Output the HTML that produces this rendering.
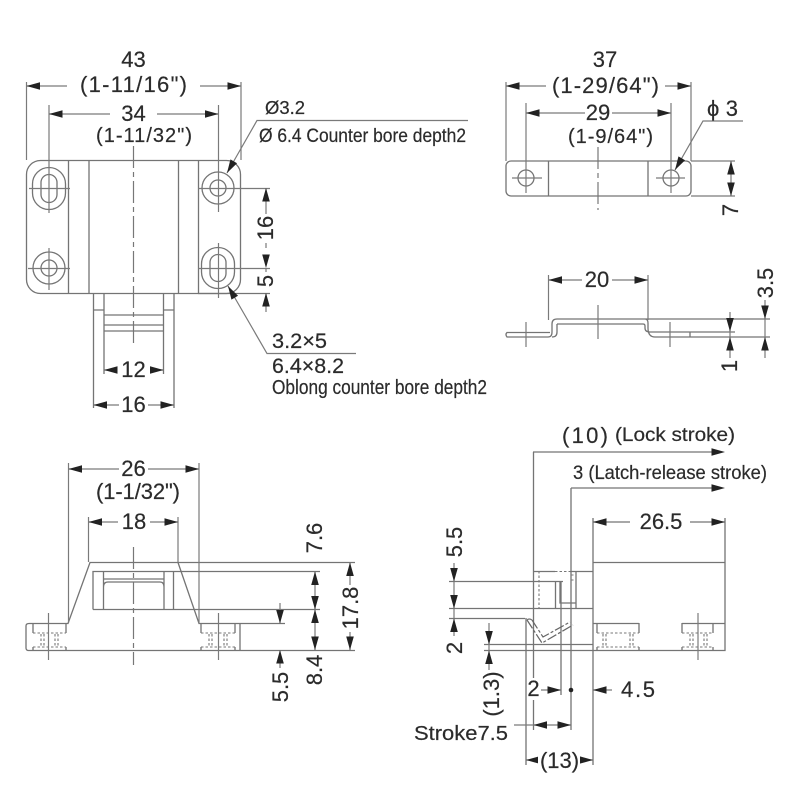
<!DOCTYPE html>
<html><head><meta charset="utf-8"><title>Latch drawing</title>
<style>
html,body{margin:0;padding:0;background:#fff}
svg{display:block}
text{font-family:"Liberation Sans",sans-serif;fill:#2b2b2b;stroke:#2b2b2b;stroke-width:.2}
.l{stroke:#747474;stroke-width:1.3;fill:none}
.d{stroke:#7a7a7a;stroke-width:1.2;fill:none}
.c{stroke:#777;stroke-width:1.2;fill:none;stroke-dasharray:22 4 5 4}
.s{stroke:#777;stroke-width:1.1;fill:none;stroke-dasharray:2.5 2}
.b{font-size:22px}
.m{font-size:22px}
.t{font-size:20px}
</style></head><body>
<svg width="800" height="800" viewBox="0 0 800 800" xmlns="http://www.w3.org/2000/svg">
<defs><path id="a" d="M0 0L13.500 -3.800L13.500 3.800Z" fill="#222"/></defs>
<rect width="800" height="800" fill="#fff"/>

<!-- top-left view -->
<rect class="l" x="26.500" y="160.500" width="214" height="133" rx="14"/>
<path class="l" d="M68.500 160V293M89 160V293M178.500 160V293M198.500 160V293"/>
<rect class="l" x="32.500" y="167.500" width="33" height="42" rx="16.500"/>
<rect class="l" x="41" y="174.500" width="16" height="28" rx="8"/>
<circle class="l" cx="218" cy="188" r="16"/><circle class="l" cx="218" cy="188" r="8"/>
<circle class="l" cx="49" cy="268" r="16"/><circle class="l" cx="49" cy="268" r="8"/>
<rect class="l" x="201.500" y="247.500" width="33" height="41" rx="16.500"/>
<rect class="l" x="210" y="254.500" width="16" height="27" rx="8"/>
<path class="d" d="M29 188.500H70M198 188.500H270M28 268.500H70M198 268.500H270M49 105V213M218.500 105V212M49 248V290M218.500 243V298"/>
<path class="c" d="M133.500 146V345"/>
<path class="l" d="M93.500 293V408M174 293V408M104 293V374M163.500 293V374M93 310H104M163 310H174M104 315H163M104 325H163M104 331H163"/>
<path class="l" d="M198 293.500H270"/>
<path class="d" d="M26.500 82V160M241 82V160M26 86H67M200 86H241M49 114H110M157 114H218"/>
<use href="#a" transform="translate(26.500,86)"/><use href="#a" transform="translate(241,86) rotate(180)"/>
<use href="#a" transform="translate(49,114)"/><use href="#a" transform="translate(218.500,114) rotate(180)"/>
<text class="b" x="133.500" y="67" text-anchor="middle">43</text>
<text class="m" x="80" y="92" textLength="107" lengthAdjust="spacing">(1-11/16")</text>
<text class="b" x="133.500" y="121" text-anchor="middle">34</text>
<text class="t" x="96" y="142" textLength="96" lengthAdjust="spacing">(1-11/32")</text>
<path class="d" d="M266 188V214M266 243V248M266 268V272M266 293V312"/>
<use href="#a" transform="translate(266,188) rotate(90)"/><use href="#a" transform="translate(266,268) rotate(-90)"/>
<use href="#a" transform="translate(266,293) rotate(90)"/>
<text class="b" transform="translate(273,228) rotate(-90)" text-anchor="middle">16</text>
<text class="b" transform="translate(273,281) rotate(-90)" text-anchor="middle">5</text>
<path class="d" d="M227 173L257 120.500H468"/>
<use href="#a" transform="translate(227,173) rotate(-60)"/>
<text x="265" y="114" font-size="18" textLength="40" lengthAdjust="spacingAndGlyphs">Ø3.2</text>
<text x="259" y="142" font-size="19" textLength="207" lengthAdjust="spacingAndGlyphs">Ø 6.4 Counter bore depth2</text>
<path class="d" d="M228 286L267 353.500H356"/>
<use href="#a" transform="translate(228,286) rotate(60)"/>
<text x="272" y="348" font-size="21" textLength="55" lengthAdjust="spacingAndGlyphs">3.2×5</text>
<text x="272" y="373" font-size="21" textLength="72" lengthAdjust="spacingAndGlyphs">6.4×8.2</text>
<text x="272" y="394" font-size="20.500" textLength="215" lengthAdjust="spacingAndGlyphs">Oblong counter bore depth2</text>
<path class="d" d="M104 370H117M150 370H163M93.500 405H119M148 405H174"/>
<use href="#a" transform="translate(104,370)"/><use href="#a" transform="translate(163.500,370) rotate(180)"/>
<use href="#a" transform="translate(93.500,405)"/><use href="#a" transform="translate(174,405) rotate(180)"/>
<text class="b" x="133.500" y="377" text-anchor="middle">12</text>
<text class="b" x="133.500" y="412" text-anchor="middle">16</text>

<!-- top-right view -->
<rect class="l" x="506" y="161" width="185" height="35" rx="5"/>
<path class="l" d="M548.500 161V196M648 161V196"/>
<circle class="l" cx="526" cy="178" r="8"/><circle class="l" cx="671" cy="178" r="8"/>
<path class="d" d="M512 178H542M656 178H685M526 103V193M671 103V193M506 82V161M691 82V161M506 86H546M665 86H691M526 113H585M612 113H671M691 161H735M691 196H735M731 161V196"/>
<path class="c" d="M598 147V210"/>
<use href="#a" transform="translate(506,86)"/><use href="#a" transform="translate(691,86) rotate(180)"/>
<use href="#a" transform="translate(526,113)"/><use href="#a" transform="translate(671,113) rotate(180)"/>
<use href="#a" transform="translate(731,161) rotate(90)"/><use href="#a" transform="translate(731,196) rotate(-90)"/>
<text class="b" x="605" y="67" text-anchor="middle">37</text>
<text class="m" x="552" y="93" textLength="107" lengthAdjust="spacing">(1-29/64")</text>
<text class="b" x="598" y="120" text-anchor="middle">29</text>
<text class="t" x="568" y="143" textLength="85" lengthAdjust="spacing">(1-9/64")</text>
<path class="d" d="M675 170L703 121H743"/>
<use href="#a" transform="translate(675,170) rotate(-60)"/>
<text x="707" y="116" font-size="22" textLength="31">ϕ 3</text>
<text class="b" transform="translate(738,210) rotate(-90)" text-anchor="middle">7</text>

<!-- side profile -->
<path class="l" d="M550 332.500H507Q505 334.500 507 337H548Q552 337 552 332V324Q552 319 557 319H770M557 324H643M557 324V332Q557 337 552 337M643 324Q645 324 645 326V328Q645 332 650 332H735M645 319Q648 319 648 323V328Q648 337 655 337H770M690 332V337"/>
<path class="d" d="M526 322V347M598 305V339M670 322V347M548.500 275V320M648 275V320M548 280H582M612 280H648M730 312V358M765 300V358"/>
<use href="#a" transform="translate(548.500,280)"/><use href="#a" transform="translate(648,280) rotate(180)"/>
<use href="#a" transform="translate(730,331.500) rotate(-90)"/><use href="#a" transform="translate(730,337) rotate(90)" />
<use href="#a" transform="translate(765,319) rotate(-90)"/><use href="#a" transform="translate(765,337) rotate(90)"/>
<text class="b" x="597" y="287" text-anchor="middle">20</text>
<text class="b" transform="translate(737,366) rotate(-90)" text-anchor="middle">1</text>
<text class="b" transform="translate(773,283) rotate(-90)" text-anchor="middle">3.5</text>

<!-- bottom-left view -->
<path class="l" d="M355 650.500H28Q26 650 26 648V626Q26 623.500 29 623.500H68L90 562.500H355M178 562.500L199 623.500H240V650M240 623.500H285"/>
<path class="l" d="M93 609.500V571.500H320M93 609.500H320M103.500 571V609M164 571V609M173.500 571V609M103 579H164M103.500 587Q103.500 582 108 582H160Q164 582 164 587"/>
<path class="l" d="M33 623V633M66 623V633M33 647V650M66 647V650M201 623V633M235 623V633M201 647V650M235 647V650"/>
<path class="s" d="M33 633H66M33 647H66M201 633H235M201 647H235M41 634V647M44 634V647M55 634V647M58 634V647M209 634V647M212 634V647M224 634V647M227 634V647"/>
<path class="d" d="M48.500 613V660M218.500 613V660M68.500 463V623M199 463V623M68 469H119M148 469H199M88.500 517V562M178 517V562M88 522H118M150 522H178"/>
<path class="c" d="M133.500 547V665"/>
<use href="#a" transform="translate(68.500,469)"/><use href="#a" transform="translate(199,469) rotate(180)"/>
<use href="#a" transform="translate(88.500,522)"/><use href="#a" transform="translate(178,522) rotate(180)"/>
<text class="b" x="133.500" y="476" text-anchor="middle">26</text>
<text class="m" x="96" y="499" textLength="84" lengthAdjust="spacing">(1-1/32")</text>
<text class="b" x="134" y="529" text-anchor="middle">18</text>
<path class="d" d="M350 562V585M350 632V650M315 571V650M280 603V623M280 650V668"/>
<use href="#a" transform="translate(350,562.500) rotate(90)"/><use href="#a" transform="translate(350,650) rotate(-90)"/>
<use href="#a" transform="translate(315,571.500) rotate(90)"/><use href="#a" transform="translate(315,609.500) rotate(-90)"/>
<use href="#a" transform="translate(315,609.500) rotate(90)"/><use href="#a" transform="translate(315,650) rotate(-90)"/>
<use href="#a" transform="translate(280,623.500) rotate(-90)"/><use href="#a" transform="translate(280,650) rotate(90)"/>
<text class="b" transform="translate(322,538) rotate(-90)" text-anchor="middle">7.6</text>
<text class="b" transform="translate(322,670) rotate(-90)" text-anchor="middle">8.4</text>
<text class="b" transform="translate(358,608) rotate(-90)" text-anchor="middle">17.8</text>
<text class="b" transform="translate(288,687) rotate(-90)" text-anchor="middle">5.5</text>

<!-- bottom-right view -->
<path class="l" d="M593 562.500H725V650.500H484M593 518V765M725 518V562M533.500 452V730M571 488V730M526 618V765M561 581V695"/>
<path class="l" d="M533 452H713M571 488H713M593 522H630M690 522H725"/>
<use href="#a" transform="translate(725,452) rotate(180)"/><use href="#a" transform="translate(725,488) rotate(180)"/>
<use href="#a" transform="translate(593,522)"/><use href="#a" transform="translate(725,522) rotate(180)"/>
<path class="l" d="M534 571.500H555M570 571.500H593M449 581.500H563M449 608.500H593M449 618.500H525M576 571V608M555.500 581V608M560 581V603H576M484 644.500H593M593 623.500H639M682 623.500H725"/>
<path class="s" d="M539 571V608M571 575H576M571 580H576M555 571.500H570"/>
<path class="l" d="M597 623V633M639 623V633M682 623V633M713 623V633M597 647V650M639 647V650M682 647V650M713 647V650"/>
<path class="s" d="M597 633H639M597 647H639M682 633H713M682 647H713M603 634V647M606 634V647M630 634V647M633 634V647M690 634V647M693 634V647M704 634V647M707 634V647"/>
<path class="d" d="M698 613V660"/>
<path d="M527 620L542 643L573 625M532 620L543 637L570 622" stroke="#666" stroke-width="1.200" fill="none" stroke-dasharray="10 2 3 2"/>
<path class="l" d="M527 620Q529 618 532 620"/>
<text class="b" x="661" y="529" text-anchor="middle">26.5</text>
<text x="562" y="443" font-size="22" textLength="46" lengthAdjust="spacing">(10)</text>
<text x="615" y="441" font-size="19" textLength="120" lengthAdjust="spacingAndGlyphs">(Lock stroke)</text>
<text x="573" y="479" font-size="19.500" textLength="194" lengthAdjust="spacingAndGlyphs">3 (Latch-release stroke)</text>
<path class="d" d="M454 563V636M489 623V670M541 690H561M593 690H612M514 725H571M526 760H593"/>
<use href="#a" transform="translate(454,581.500) rotate(-90)"/><use href="#a" transform="translate(454,608.500) rotate(-90)"/>
<use href="#a" transform="translate(454,618.500) rotate(90)"/>
<use href="#a" transform="translate(489,644.500) rotate(-90)"/><use href="#a" transform="translate(489,650.500) rotate(90)"/>
<use href="#a" transform="translate(561,690) rotate(180)"/><use href="#a" transform="translate(593,690)"/>
<circle cx="571" cy="690" r="2.300" fill="#222"/>
<use href="#a" transform="translate(533.500,725)"/><use href="#a" transform="translate(571,725) rotate(180)"/>
<use href="#a" transform="translate(526,760)"/><use href="#a" transform="translate(593,760) rotate(180)"/>
<text class="b" transform="translate(462,542) rotate(-90)" text-anchor="middle">5.5</text>
<text class="b" transform="translate(462,648) rotate(-90)" text-anchor="middle">2</text>
<text class="b" transform="translate(499,694) rotate(-90)" text-anchor="middle">(1.3)</text>
<rect x="528" y="678" width="12" height="22" fill="#fff"/>
<text class="b" x="533.500" y="696" text-anchor="middle">2</text>
<text class="b" x="621" y="697" textLength="34">4.5</text>
<text x="414" y="740" font-size="20" textLength="94" lengthAdjust="spacingAndGlyphs">Stroke7.5</text>
<rect x="538" y="748" width="42" height="24" fill="#fff"/>
<text class="b" x="559.500" y="768" text-anchor="middle">(13)</text>
</svg>
</body></html>
